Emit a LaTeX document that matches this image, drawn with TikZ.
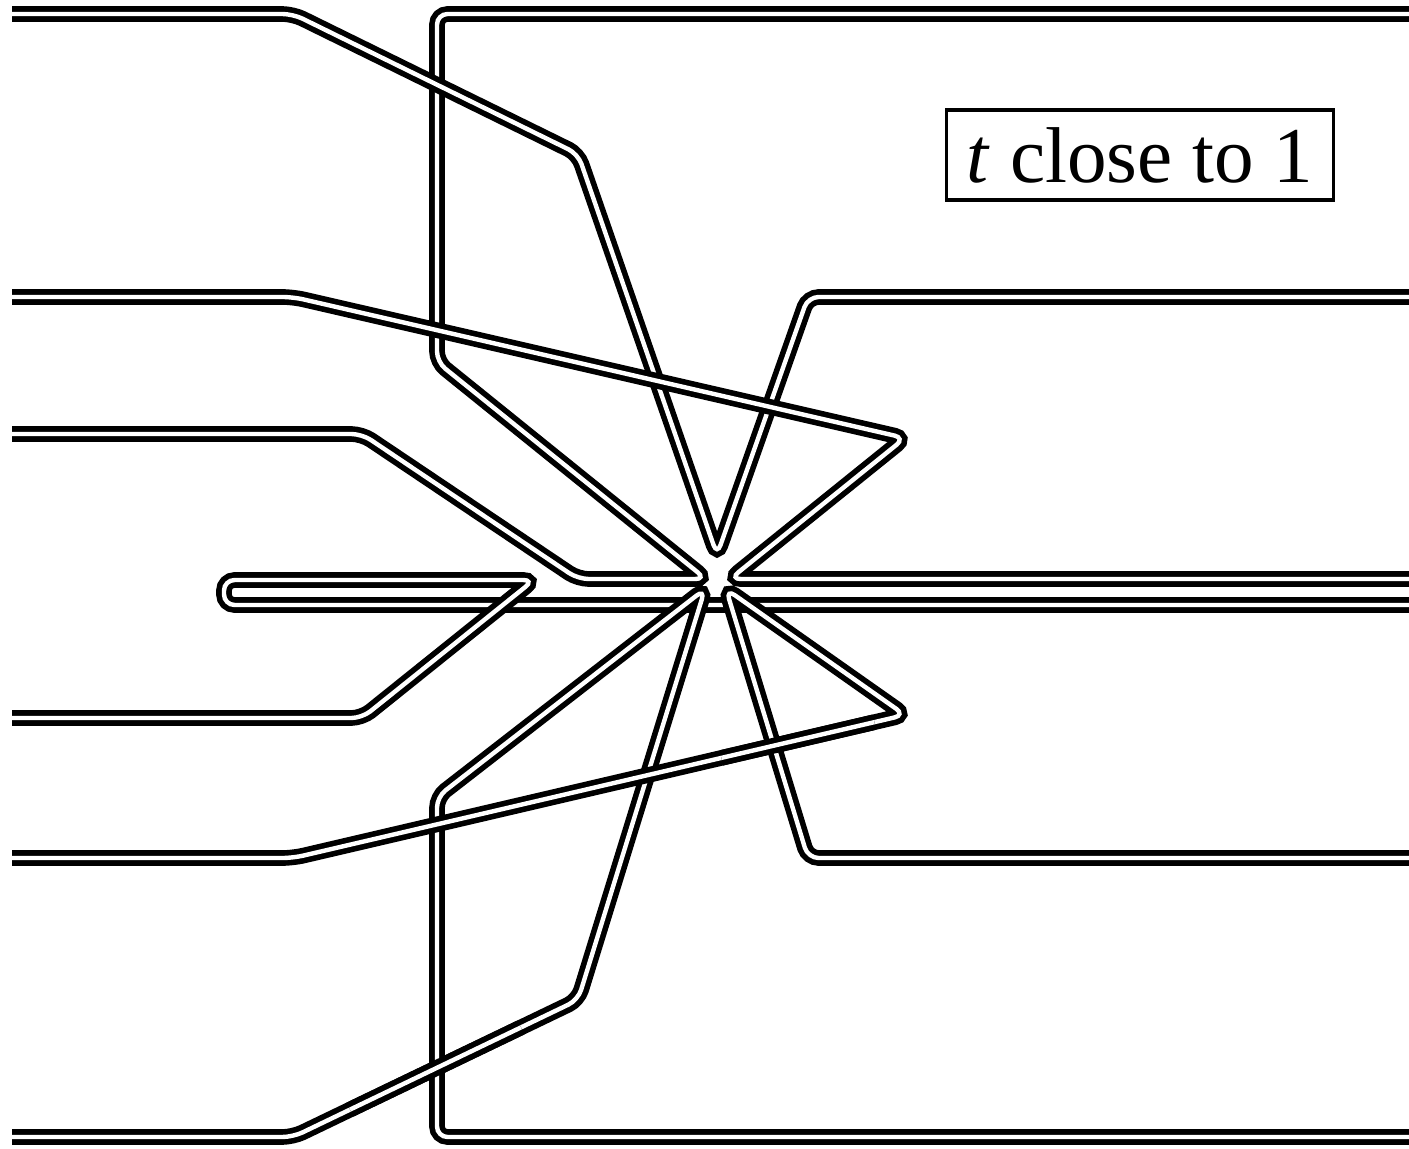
\documentclass[tikz,border=0pt]{standalone}
\usepackage{fontspec}
\setmainfont{Liberation Serif}
\usetikzlibrary{calc}
\begin{document}
\begin{tikzpicture}[x=0.01cm,y=-0.01cm,
    strand/.style={draw=black,line width=1.6pt,double=white,
      double distance=1.25pt,rounded corners=3pt},
    tag/.style={draw,line width=0.9pt,minimum width=3.87cm,
      minimum height=0.9cm,inner sep=0pt,font=\fontsize{22.5}{27}\selectfont}]
  \useasboundingbox (0,0) rectangle (1409,1149);
  \coordinate (top) at (717,555);
  \coordinate (west) at (706,579);
  \coordinate (east) at (730,579);
  \coordinate (sw) at (705,589);
  \coordinate (se) at (726,589);
  % upper half
  \draw[strand] (12,434) -- (362,434) -- (578,579) -- (west) -- (437,362) -- (437,14) -- (1409,14);
  \draw[strand] (12,14) -- (293,14) -- (578,154) -- (top) -- (808,297) -- (1409,297);
  \draw[strand] (12,297) -- (293,297) -- (905,438) -- (east) -- (1409,579);
  % loop, under the rest
  \draw[strand] (470,580) -- (224,580) -- (224,605) -- (1409,605);
  \draw[strand] (12,718) -- (362,718) -- (534,580) -- (400,580);
  % lower half
  \draw[strand] (1409,1137) -- (437,1137) -- (437,797) -- (sw) -- (578,1000) -- (293,1137) -- (12,1137);
  \draw[strand] ($(293,1137)!0.2!(578,1000)$) -- ($(293,1137)!0.8!(578,1000)$);
  \draw[strand] (12,858) -- (293,858) -- (905,715) -- (se) -- (808,858) -- (1409,858);
  \draw[strand] ($(293,858)!0.7!(905,715)$) -- ($(293,858)!0.95!(905,715)$);
  \node[tag] (label) at (1140,155) {\textit{t} close to 1};
\end{tikzpicture}
\end{document}
